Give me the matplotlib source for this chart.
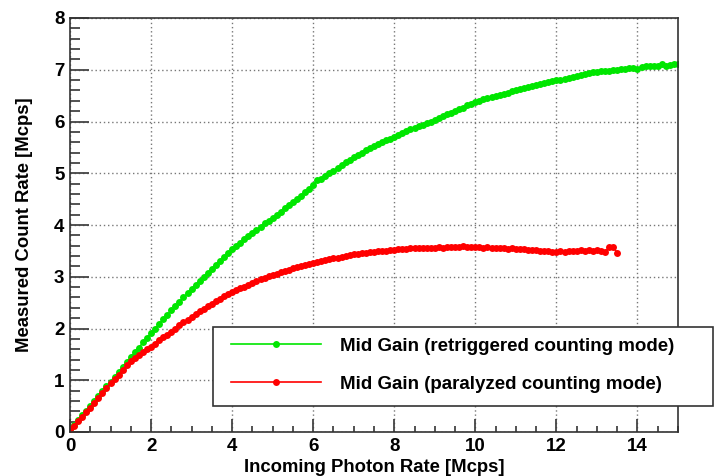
import numpy as np
import matplotlib
matplotlib.use("Agg")
import matplotlib.pyplot as plt
from matplotlib.ticker import MultipleLocator
from matplotlib.patches import Rectangle

plt.rcParams['font.family'] = ['Liberation Sans', 'DejaVu Sans']
plt.rcParams['font.weight'] = 'bold'

# valeurs (pas de 0.1 Mcps)
x_step = 0.1

green_rate = [0.05, 0.14, 0.23, 0.32, 0.41, 0.50, 0.60, 0.69, 0.79, 0.88,
              0.97, 1.07, 1.16, 1.26, 1.35, 1.45, 1.54, 1.63, 1.73, 1.82,
              1.91, 2.00, 2.09, 2.18, 2.27, 2.35, 2.43, 2.52, 2.60, 2.68,
              2.76, 2.84, 2.92, 3.00, 3.07, 3.15, 3.23, 3.30, 3.38, 3.45,
              3.53, 3.59, 3.66, 3.72, 3.79, 3.85, 3.91, 3.97, 4.03, 4.08,
              4.14, 4.20, 4.26, 4.33, 4.39, 4.45, 4.51, 4.57, 4.63, 4.70,
              4.78, 4.86, 4.89, 4.94, 5.00, 5.05, 5.10, 5.16, 5.21, 5.26,
              5.31, 5.35, 5.40, 5.44, 5.48, 5.52, 5.56, 5.60, 5.64, 5.67,
              5.71, 5.74, 5.78, 5.81, 5.85, 5.88, 5.91, 5.94, 5.97, 6.00,
              6.03, 6.07, 6.10, 6.14, 6.17, 6.20, 6.24, 6.27, 6.31, 6.34,
              6.38, 6.40, 6.43, 6.45, 6.48, 6.50, 6.52, 6.54, 6.56, 6.58,
              6.60, 6.62, 6.64, 6.66, 6.68, 6.70, 6.72, 6.74, 6.76, 6.78,
              6.80, 6.81, 6.83, 6.85, 6.86, 6.88, 6.90, 6.91, 6.93, 6.95,
              6.96, 6.97, 6.98, 6.98, 6.99, 7.00, 7.01, 7.02, 7.03, 7.04,
              7.02, 7.06, 7.07, 7.07, 7.08, 7.08, 7.11, 7.08, 7.10, 7.12,
              7.11]

red_rate = [0.05, 0.12, 0.21, 0.29, 0.38, 0.47, 0.57, 0.65, 0.76, 0.85,
            0.94, 1.03, 1.11, 1.20, 1.29, 1.37, 1.43, 1.49, 1.54, 1.60,
            1.65, 1.71, 1.77, 1.83, 1.88, 1.94, 2.00, 2.06, 2.12, 2.17,
            2.23, 2.28, 2.33, 2.38, 2.43, 2.48, 2.53, 2.57, 2.62, 2.67,
            2.70, 2.74, 2.78, 2.81, 2.85, 2.88, 2.91, 2.95, 2.98, 3.01,
            3.04, 3.06, 3.09, 3.12, 3.14, 3.17, 3.19, 3.21, 3.23, 3.25,
            3.27, 3.29, 3.31, 3.32, 3.34, 3.36, 3.37, 3.39, 3.40, 3.42,
            3.43, 3.44, 3.45, 3.46, 3.47, 3.48, 3.49, 3.50, 3.50, 3.51,
            3.52, 3.53, 3.53, 3.54, 3.55, 3.55, 3.55, 3.56, 3.56, 3.55,
            3.56, 3.57, 3.56, 3.57, 3.58, 3.58, 3.57, 3.59, 3.58, 3.57,
            3.57, 3.58, 3.56, 3.57, 3.56, 3.56, 3.55, 3.56, 3.54, 3.55,
            3.54, 3.53, 3.53, 3.52, 3.51, 3.51, 3.50, 3.50, 3.49, 3.48,
            3.48, 3.49, 3.48, 3.49, 3.50, 3.49, 3.51, 3.50, 3.51, 3.50,
            3.51, 3.49, 3.47, 3.58, 3.58, 3.46]

green_label = "Mid Gain (retriggered counting mode)"
red_label = "Mid Gain (paralyzed counting mode)"

green_x = np.arange(len(green_rate)) * x_step
red_x = np.arange(len(red_rate)) * x_step

fig = plt.figure(figsize=(7.15, 4.76), dpi=100)
ax = fig.add_axes([70/715, 44/476, 608/715, 414/476])

ax.plot(green_x, green_rate, color="#00e600", marker="o", markersize=5,
        markeredgewidth=0, linewidth=1.2, label=green_label)
ax.plot(red_x, red_rate, color="#ff0000", marker="o", markersize=5,
        markeredgewidth=0, linewidth=1.2, label=red_label)

ax.set_xlim(0, 15)
ax.set_ylim(0, 8)
ax.xaxis.set_major_locator(MultipleLocator(2))
ax.xaxis.set_minor_locator(MultipleLocator(0.5))
ax.yaxis.set_major_locator(MultipleLocator(1))
ax.yaxis.set_minor_locator(MultipleLocator(0.2))

ax.grid(True, which="major", color="#777777", linestyle=(0, (1, 2)), linewidth=1)
ax.tick_params(axis="both", which="both", direction="in", top=False, right=False,
               color="#444444", width=1.3, labelsize=13.5)
ax.tick_params(axis="y", which="major", length=14, pad=4)
ax.tick_params(axis="y", which="minor", length=7)
ax.tick_params(axis="x", which="major", length=9.5, pad=4.5)
ax.tick_params(axis="x", which="minor", length=4.5)
for lab in ax.get_xticklabels() + ax.get_yticklabels():
    lab.set_fontweight("bold")
for sp in ax.spines.values():
    sp.set_color("#333333")
    sp.set_linewidth(1.2)

ax.set_xlabel("Incoming Photon Rate [Mcps]", fontsize=13.3, fontweight="bold", labelpad=2.5)
ax.set_ylabel("Measured Count Rate [Mcps]", fontsize=13.3, fontweight="bold", labelpad=15)

# cadre de la legende (facon ROOT, depasse du cadre du graphique)
cadre = Rectangle((213/715, 1 - 406/476), 500/715, 79/476, transform=fig.transFigure,
                  facecolor="white", edgecolor="#333333", linewidth=1.2, zorder=4)
fig.add_artist(cadre)

leg = fig.legend(loc="upper left", bbox_to_anchor=(231/715, 1 - 337.5/476),
                 fontsize=13.5, frameon=False, borderpad=0, labelspacing=1.11,
                 handlelength=4.8, handletextpad=1.0, borderaxespad=0)
leg.set_zorder(5)
for t in leg.get_texts():
    t.set_fontweight("bold")

fig.savefig("out.png", dpi=100)
